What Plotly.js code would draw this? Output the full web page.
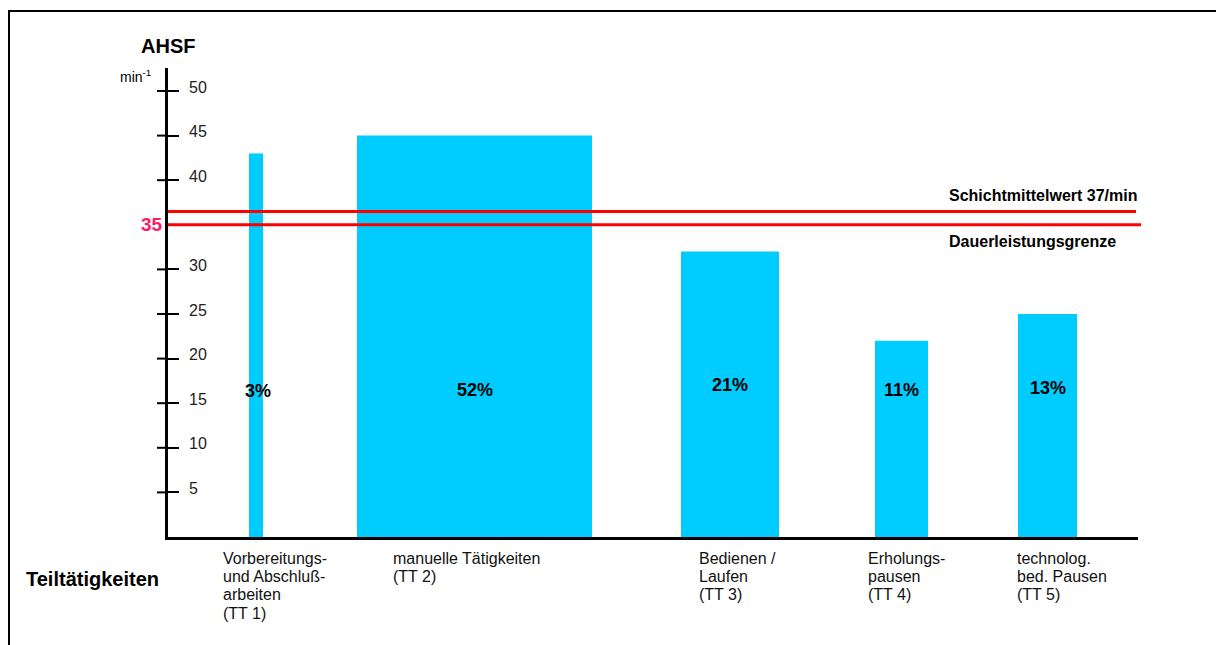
<!DOCTYPE html>
<html>
<head>
<meta charset="utf-8">
<script src="https://cdn.plot.ly/plotly-3.0.1.min.js"></script>
<style>html,body{margin:0;padding:0;background:#fff;}#chart{width:1216px;height:645px;}</style>
</head>
<body>
<div id="chart"></div>
<script>
// ---- data ----
const categories = ['TT 1', 'TT 2', 'TT 3', 'TT 4', 'TT 5'];
const categoryLabels = [
  'Vorbereitungs-<br>und Abschluß-<br>arbeiten<br>(TT 1)',
  'manuelle Tätigkeiten<br>(TT 2)',
  'Bedienen /<br>Laufen<br>(TT 3)',
  'Erholungs-<br>pausen<br>(TT 4)',
  'technolog.<br>bed. Pausen<br>(TT 5)'
];
const ahsf = [43, 45, 32, 22, 25];          // AHSF in min^-1
const shares = [3, 52, 21, 11, 13];         // Zeitanteil in %
const yTickVals = [5, 10, 15, 20, 25, 30, 40, 45, 50];
const schichtmittelwert = 36.5;
const dauerleistungsgrenze = 35;

// ---- layout helpers (pixel-based x axis) ----
const W = 1216, H = 645;
const plotL = 168, plotR = 1138, plotB = 537, plotT = 68;
const pxPerUnit = 8.92;
const yMax = (plotB - plotT) / pxPerUnit;
const barCenters = [88, 306.5, 562, 733.5, 879.5];
const barWidths = [14, 235, 98, 53, 59];
const labelStarts = [53, 223, 529, 698, 847];
const pctY = [16.4, 16.5, 17.0, 16.5, 16.7];
const px = p => (p - plotL) / (plotR - plotL);
const py = p => (plotB - p) / (plotB - plotT);

const font = 'Liberation Sans, Arial, sans-serif';

const traces = [{
  type: 'bar',
  x: barCenters,
  y: ahsf,
  width: barWidths,
  marker: {color: '#00ccff', line: {width: 0}},
  hoverinfo: 'skip',
  showlegend: false
}];

const annotations = [];
shares.forEach((s, i) => annotations.push({
  x: barCenters[i] + (i === 0 ? 2 : 0), y: pctY[i], xref: 'x', yref: 'y',
  text: '<b>' + s + '%</b>', showarrow: false,
  font: {family: font, size: 18, color: '#000'}
}));
yTickVals.forEach(v => annotations.push({
  x: px(187), y: v, xref: 'paper', yref: 'y', xanchor: 'left', yanchor: 'middle',
  yshift: 4, text: String(v), showarrow: false,
  font: {family: font, size: 16, color: '#222'}
}));
categoryLabels.forEach((t, i) => t.split('<br>').forEach((line, k) => annotations.push({
  x: labelStarts[i], y: py(558 + 18.4 * k), xref: 'x', yref: 'paper',
  text: line, showarrow: false, xanchor: 'left', yanchor: 'middle', align: 'left',
  font: {family: font, size: 16, color: '#111'}
})));
annotations.push(
  {x: px(24), y: py(579), xref: 'paper', yref: 'paper', xanchor: 'left', yanchor: 'middle',
   text: '<b>Teiltätigkeiten</b>', showarrow: false, font: {family: font, size: 20, color: '#000'}},
  {x: px(168), y: py(46), xref: 'paper', yref: 'paper', xanchor: 'center', yanchor: 'middle',
   text: '<b>AHSF</b>', showarrow: false, font: {family: font, size: 20, color: '#000'}},
  {x: px(153), y: py(76), xref: 'paper', yref: 'paper', xanchor: 'right', yanchor: 'middle',
   text: 'min<sup>-1</sup>', showarrow: false, font: {family: font, size: 14, color: '#000'}},
  {x: px(165), y: dauerleistungsgrenze, xref: 'paper', yref: 'y', xanchor: 'right', yanchor: 'middle',
   text: '<b>' + dauerleistungsgrenze + '</b>', showarrow: false, font: {family: font, size: 19, color: '#ff1a66'}},
  {x: px(947), y: py(195), xref: 'paper', yref: 'paper', xanchor: 'left', yanchor: 'middle',
   text: '<b>Schichtmittelwert 37/min</b>', showarrow: false, font: {family: font, size: 16, color: '#000'}},
  {x: px(947), y: py(241), xref: 'paper', yref: 'paper', xanchor: 'left', yanchor: 'middle',
   text: '<b>Dauerleistungsgrenze</b>', showarrow: false, font: {family: font, size: 16, color: '#000'}}
);

const shapes = [
  {type: 'line', xref: 'paper', yref: 'y', x0: 0, x1: px(1136), y0: schichtmittelwert, y1: schichtmittelwert,
   line: {color: '#ff0000', width: 3}},
  {type: 'line', xref: 'paper', yref: 'y', x0: 0, x1: px(1141), y0: dauerleistungsgrenze, y1: dauerleistungsgrenze,
   line: {color: '#ff0000', width: 3}},
  // frame
  {type: 'line', xref: 'paper', yref: 'paper', x0: px(8), x1: px(1216), y0: py(11), y1: py(11),
   line: {color: '#000', width: 2}},
  {type: 'line', xref: 'paper', yref: 'paper', x0: px(9), x1: px(9), y0: py(10), y1: py(645),
   line: {color: '#000', width: 2}}
];
// outer half of the crossing tick marks (inner half comes from the axis' inside ticks)
yTickVals.forEach(v => shapes.push({
  type: 'line', layer: 'above', xref: 'paper', yref: 'y', x0: px(157), x1: px(168), y0: v, y1: v,
  line: {color: '#000', width: 2}
}));

const layout = {
  width: W, height: H,
  margin: {l: plotL, r: W - plotR, t: plotT, b: H - plotB, pad: 0},
  paper_bgcolor: '#fff', plot_bgcolor: '#fff',
  showlegend: false,
  xaxis: {range: [0, plotR - plotL], showgrid: false, zeroline: false, showticklabels: false,
          ticks: '', showline: true, linecolor: '#000', linewidth: 3, fixedrange: true},
  yaxis: {range: [0, yMax], showgrid: false, zeroline: false, showticklabels: false,
          tickvals: yTickVals, ticks: 'inside', ticklen: 11, tickwidth: 2, tickcolor: '#000',
          showline: true, linecolor: '#000', linewidth: 3, fixedrange: true},
  annotations: annotations,
  shapes: shapes
};

Plotly.newPlot('chart', traces, layout, {displayModeBar: false, staticPlot: true});
</script>
</body>
</html>
